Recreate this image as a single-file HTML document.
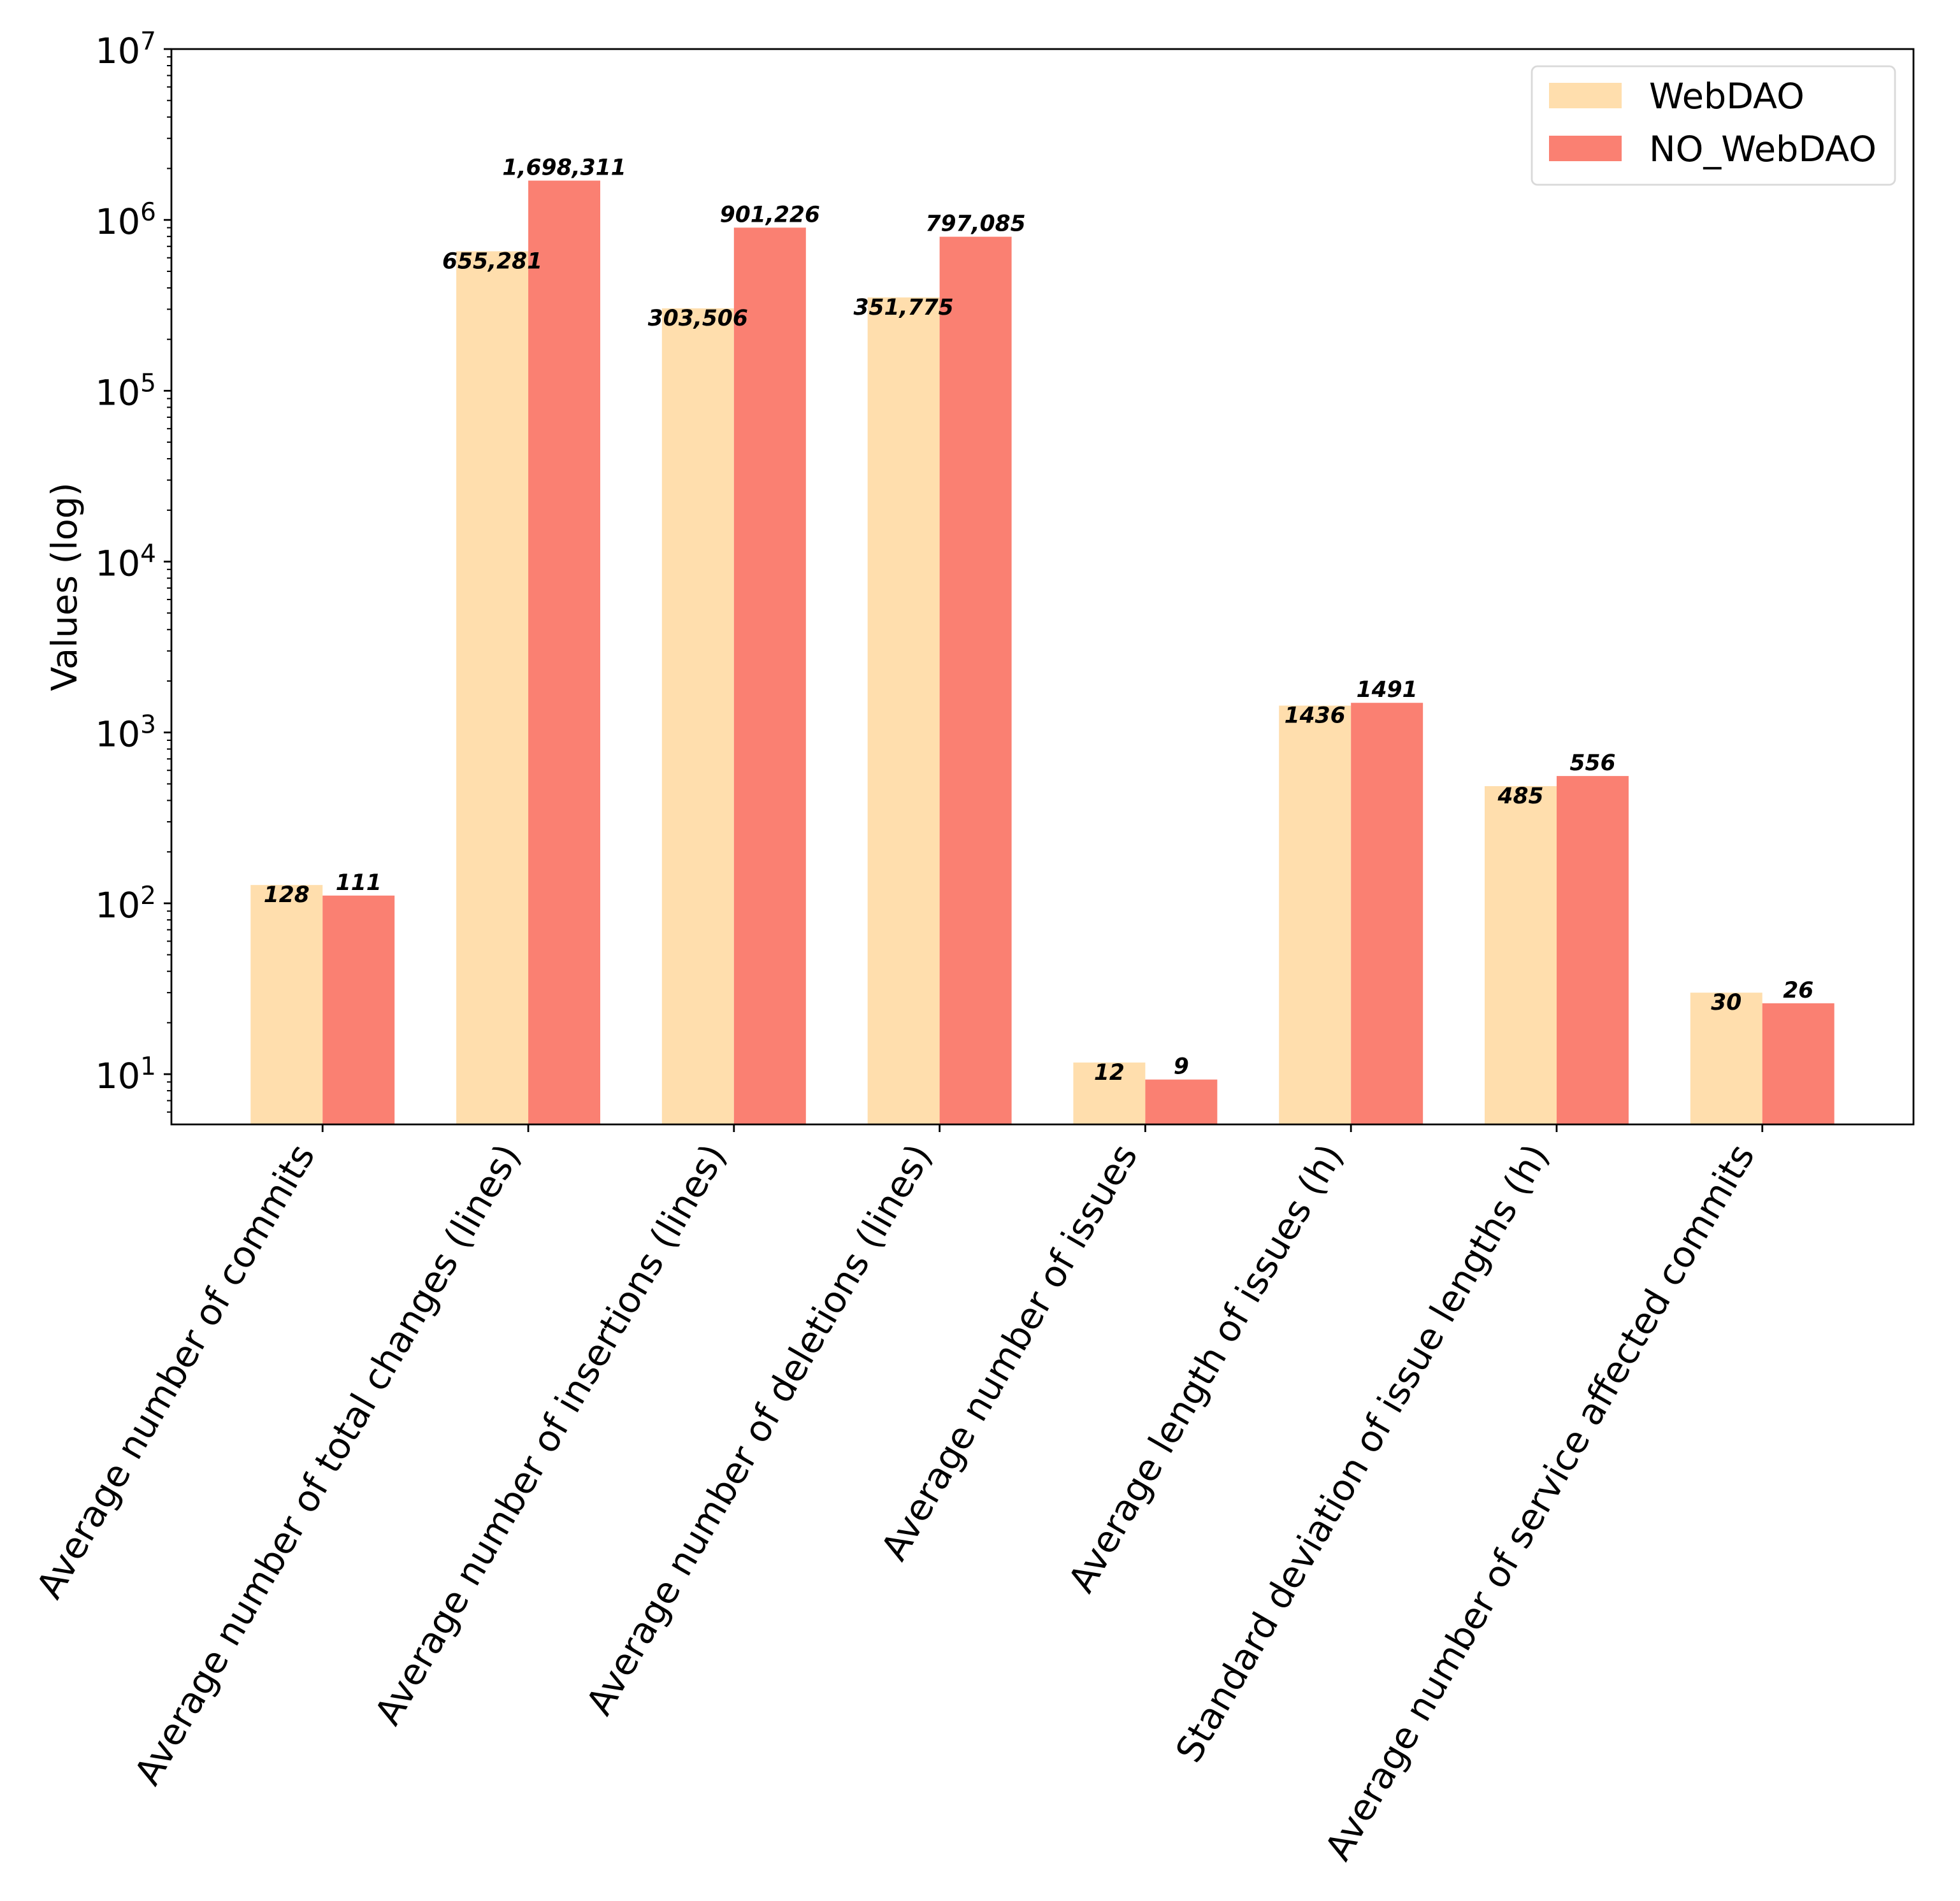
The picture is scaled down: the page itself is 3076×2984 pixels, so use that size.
<!DOCTYPE html>
<html><head><meta charset="utf-8">
<style>
html,body{margin:0;padding:0;background:#fff;}
svg{display:block;}
text{font-family:"DejaVu Sans","Liberation Sans",sans-serif;}
</style></head>
<body>
<svg id="chart" xmlns="http://www.w3.org/2000/svg" width="3076" height="2984" viewBox="0 0 3076 2984">
<rect x="0" y="0" width="3076" height="2984" fill="#fff"/>
<g id="bars"></g>
<g id="labels"></g>
<g id="yaxis"></g>
<g id="xaxis"></g>
<rect x="269" y="77" width="2734" height="1688" fill="none" stroke="#000" stroke-width="2.8"/>
<text x="0" y="0" font-size="55.6" text-anchor="middle" transform="translate(120,921) rotate(-90)">Values (log)</text>
<g>
<rect x="2404" y="104" width="570" height="186" rx="9" fill="#fff" fill-opacity="0.8" stroke="#d9d9d9" stroke-width="2.8"/>
<rect x="2431" y="130" width="114" height="40" fill="#FFDEAD"/>
<text x="2588" y="170" font-size="55.6">WebDAO</text>
<rect x="2431" y="213" width="114" height="40" fill="#FA8072"/>
<text x="2588" y="253" font-size="55.6">NO_WebDAO</text>
</g>
</svg>
<script>
const categories = ["Average number of commits","Average number of total changes (lines)","Average number of insertions (lines)","Average number of deletions (lines)","Average number of issues","Average length of issues (h)","Standard deviation of issue lengths (h)","Average number of service affected commits"];
const webdaoValues = [128, 655281, 303506, 351775, 11.7, 1436, 485, 30];
const noWebdaoValues = [111, 1698311, 901226, 797085, 9.3, 1491, 556, 26];
const webdaoLabels = ["128","655,281","303,506","351,775","12","1436","485","30"];
const noWebdaoLabels = ["111","1,698,311","901,226","797,085","9","1491","556","26"];
const yTickExps = [1,2,3,4,5,6,7];

const NS="http://www.w3.org/2000/svg";
const L=269,R=3003,T=77,B=1765;
const yMin=Math.log10(5.08), yMax=7;
function y(v){return B-(Math.log10(v)-yMin)/(yMax-yMin)*(B-T);}
const xMin=-0.735,xMax=categories.length-1+0.735;
function x(i){return L+(i-xMin)/(xMax-xMin)*(R-L);}
const bw=0.35*(R-L)/(xMax-xMin);
function mk(tag,attrs,parent){const e=document.createElementNS(NS,tag);for(const k in attrs)e.setAttribute(k,attrs[k]);parent.appendChild(e);return e;}
const gb=document.getElementById('bars'),gl=document.getElementById('labels'),gy=document.getElementById('yaxis'),gx=document.getElementById('xaxis');
categories.forEach((c,i)=>{
  const cx=x(i);
  const y1=y(webdaoValues[i]);
  const r1=mk('rect',{x:cx-bw,y:y1,width:bw,height:B-y1,fill:'#FFDEAD'},gb);
  
  
  const y2=y(noWebdaoValues[i]);
  const r2=mk('rect',{x:cx,y:y2,width:bw,height:B-y2,fill:'#FA8072'},gb);
  
  
  const t1=mk('text',{x:cx-bw/2,y:y1+27,'font-size':34.5,'font-weight':'bold','font-style':'italic','text-anchor':'middle'},gl);
  t1.textContent=webdaoLabels[i];
  
  
  const t2=mk('text',{x:cx+bw/2,y:y2-9,'font-size':34.5,'font-weight':'bold','font-style':'italic','text-anchor':'middle'},gl);
  t2.textContent=noWebdaoLabels[i];
  
  
  const tk=mk('line',{x1:cx,x2:cx,y1:B,y2:B+12,stroke:'#000','stroke-width':2.8},gx);
  
  
  const ax=cx-11, ay=B+24+22;
  const tl=mk('text',{x:0,y:0,'font-size':57,'text-anchor':'end',transform:`translate(${ax},${ay}) rotate(-60)`},gx);
  tl.textContent=c;
  
  
});
yTickExps.forEach(e=>{
  const v=Math.pow(10,e), ty=y(v);
  const tk=mk('line',{x1:L-12,x2:L,y1:ty,y2:ty,stroke:'#000','stroke-width':2.8},gy);
  
  
  const t=mk('text',{x:L-24,y:ty+22,'font-size':55.6,'text-anchor':'end'},gy);
  
  
  const base=document.createElementNS(NS,'tspan');base.textContent='10';t.appendChild(base);
  const sup=document.createElementNS(NS,'tspan');sup.setAttribute('font-size','39');sup.setAttribute('dy','-21');sup.textContent=String(e);t.appendChild(sup);
});
for(let e=0;e<7;e++){
  for(let m=2;m<=9;m++){
    const v=m*Math.pow(10,e);
    if(Math.log10(v)<yMin||Math.log10(v)>yMax)continue;
    const ty=y(v);
    const tk=mk('line',{x1:L-7,x2:L,y1:ty,y2:ty,stroke:'#000','stroke-width':2},gy);
    
    
  }
}
</script>
</body></html>
